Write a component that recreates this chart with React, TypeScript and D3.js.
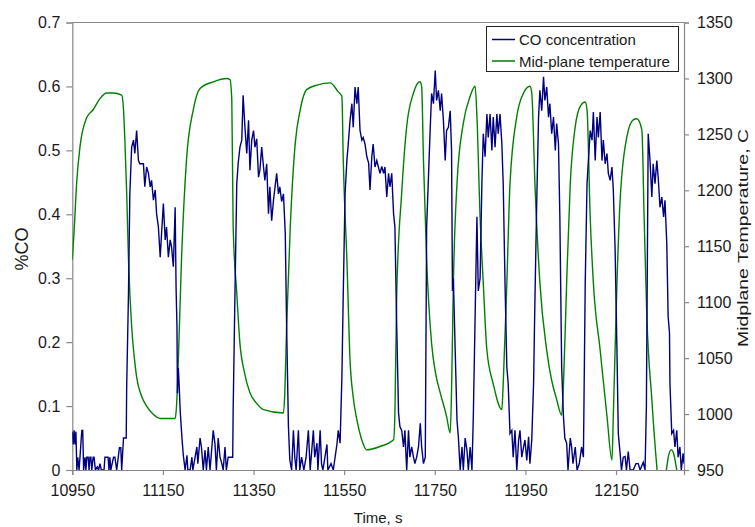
import React, { useRef, useEffect } from "react";
import * as d3 from "d3";

// time (s), %CO
const coReadings: [number, number][] = [
  [10950, 0.06], [10952, 0.04], [10954, 0.062], [10956, 0.04], [10958, 0.06], [10960, 0], [10962, 0.02], [10965, 0],
  [10971, 0.062], [10973, 0.062], [10975, 0], [10978, 0.02], [10980, 0], [10982, 0.02], [10985, 0.02], [10987, 0],
  [10989, 0.02], [10991, 0.02], [10993, 0], [10996, 0.02], [10998, 0.02], [11001, 0], [11005, 0.005], [11008, 0],
  [11011, 0.01], [11014, 0], [11020, 0], [11022, 0.02], [11029, 0.02], [11031, 0], [11033, 0.02], [11035, 0],
  [11041, 0.02], [11044, 0.02], [11048, 0], [11054, 0.035], [11057, 0.035], [11059, 0], [11063, 0.05], [11069, 0.05],
  [11070, 0.13], [11074, 0.276], [11077, 0.432], [11081, 0.505], [11085, 0.516], [11088, 0.495], [11092, 0.531],
  [11096, 0.484], [11099, 0.479], [11107, 0.479], [11110, 0.443], [11114, 0.474], [11118, 0.464], [11122, 0.443],
  [11125, 0.453], [11129, 0.422], [11133, 0.438], [11136, 0.401], [11140, 0.38], [11144, 0.333], [11147, 0.37],
  [11151, 0.417], [11155, 0.36], [11158, 0.38], [11162, 0.333], [11166, 0.36], [11169, 0.349], [11173, 0.318],
  [11177, 0.411], [11179, 0.286], [11181, 0.224], [11182, 0.12], [11184, 0.16], [11186, 0.13], [11188, 0.094],
  [11192, 0.05], [11195, 0.023], [11199, 0], [11203, 0.023], [11205, 0], [11210, 0], [11214, 0.02], [11216, 0],
  [11225, 0.036], [11227, 0.01], [11232, 0.05], [11235, 0.036], [11239, 0], [11243, 0.031], [11246, 0], [11250, 0.036],
  [11254, 0], [11261, 0.062], [11265, 0.04], [11268, 0], [11272, 0.05], [11276, 0.02], [11280, 0.01], [11283, 0],
  [11287, 0.036], [11290, 0], [11294, 0.02], [11298, 0.02], [11302, 0.02], [11304, 0.02], [11305, 0.094],
  [11309, 0.276], [11313, 0.448], [11316, 0.479], [11320, 0.505], [11324, 0.516], [11327, 0.586], [11331, 0.536],
  [11335, 0.495], [11339, 0.547], [11342, 0.469], [11346, 0.516], [11350, 0.531], [11353, 0.505], [11357, 0.518],
  [11361, 0.458], [11364, 0.469], [11368, 0.505], [11372, 0.474], [11375, 0.453], [11379, 0.479], [11383, 0.401],
  [11386, 0.443], [11390, 0.39], [11394, 0.422], [11401, 0.464], [11405, 0.432], [11408, 0.443], [11412, 0.42],
  [11416, 0.432], [11420, 0.37], [11423, 0.224], [11427, 0.068], [11430, 0.016], [11434, 0], [11438, 0.062],
  [11441, 0.02], [11444, 0], [11449, 0.062], [11452, 0], [11456, 0.02], [11461, 0], [11466, 0.02], [11471, 0.062],
  [11475, 0], [11482, 0.062], [11485, 0.02], [11490, 0.042], [11492, 0], [11497, 0.062], [11500, 0.01], [11503, 0],
  [11512, 0.04], [11514, 0], [11521, 0.01], [11526, 0], [11534, 0.04], [11537, 0.062], [11541, 0.042], [11545, 0.146],
  [11548, 0.276], [11552, 0.432], [11556, 0.484], [11559, 0.51], [11563, 0.547], [11567, 0.573], [11570, 0.536],
  [11574, 0.599], [11578, 0.573], [11581, 0.599], [11585, 0.531], [11589, 0.516], [11592, 0.52], [11596, 0.51],
  [11600, 0.49], [11604, 0.48], [11607, 0.438], [11611, 0.49], [11614, 0.51], [11618, 0.474], [11622, 0.484],
  [11629, 0.464], [11633, 0.475], [11637, 0.464], [11640, 0.474], [11644, 0.427], [11648, 0.464], [11651, 0.443],
  [11655, 0.464], [11659, 0.401], [11662, 0.38], [11666, 0.224], [11670, 0.089], [11673, 0.068], [11677, 0.062],
  [11681, 0.036], [11684, 0.062], [11688, 0], [11692, 0.062], [11695, 0.02], [11699, 0.036], [11703, 0.02],
  [11706, 0.01], [11710, 0.02], [11714, 0.036], [11718, 0.073], [11721, 0.036], [11725, 0.01], [11729, 0.02],
  [11732, 0.38], [11740, 0.536], [11743, 0.589], [11747, 0.573], [11751, 0.625], [11754, 0.578], [11758, 0.594],
  [11762, 0.562], [11765, 0.589], [11769, 0.547], [11773, 0.484], [11776, 0.531], [11780, 0.536], [11784, 0.562],
  [11787, 0.5], [11789, 0.28], [11791, 0.3], [11795, 0.188], [11799, 0.078], [11802, 0.052], [11806, 0],
  [11810, 0.036], [11813, 0], [11817, 0.05], [11821, 0.031], [11824, 0], [11828, 0.036], [11832, 0], [11835, 0.083],
  [11839, 0.24], [11843, 0.396], [11846, 0.28], [11850, 0.3], [11854, 0.45], [11857, 0.526], [11861, 0.49],
  [11865, 0.557], [11868, 0.52], [11872, 0.557], [11876, 0.5], [11879, 0.552], [11883, 0.505], [11887, 0.557],
  [11890, 0.526], [11894, 0.557], [11898, 0.51], [11901, 0.448], [11905, 0.292], [11909, 0.161], [11912, 0.135],
  [11916, 0.057], [11920, 0.062], [11923, 0.02], [11927, 0.062], [11931, 0], [11935, 0.047], [11938, 0.062],
  [11942, 0.02], [11946, 0.036], [11949, 0.047], [11953, 0.015], [11957, 0.052], [11960, 0.01], [11964, 0.047],
  [11968, 0.135], [11971, 0.266], [11975, 0.42], [11979, 0.552], [11982, 0.594], [11986, 0.562], [11990, 0.615],
  [11993, 0.578], [11997, 0.599], [12001, 0.552], [12004, 0.573], [12008, 0.526], [12012, 0.552], [12016, 0.5],
  [12019, 0.542], [12023, 0.51], [12026, 0.396], [12030, 0.161], [12034, 0.083], [12037, 0.05], [12041, 0.042],
  [12044, 0], [12049, 0.05], [12052, 0.036], [12055, 0.01], [12060, 0.036], [12064, 0], [12069, 0.01], [12074, 0.036],
  [12078, 0.02], [12082, 0.292], [12086, 0.448], [12089, 0.484], [12093, 0.531], [12097, 0.516], [12100, 0.56],
  [12104, 0.484], [12108, 0.552], [12111, 0.52], [12115, 0.56], [12119, 0.484], [12122, 0.516], [12126, 0.479],
  [12130, 0.495], [12133, 0.464], [12137, 0.453], [12141, 0.474], [12144, 0.438], [12148, 0.344], [12152, 0.188],
  [12155, 0.057], [12159, 0.026], [12162, 0], [12166, 0.02], [12170, 0.021], [12173, 0], [12177, 0.029], [12181, 0],
  [12188, 0], [12194, 0.01], [12199, 0.01], [12203, 0], [12210, 0.012], [12214, 0], [12217, 0.1], [12221, 0.526],
  [12225, 0.484], [12229, 0.427], [12232, 0.479], [12236, 0.448], [12240, 0.484], [12243, 0.458], [12247, 0.411],
  [12251, 0.427], [12255, 0.396], [12258, 0.422], [12262, 0.354], [12265, 0.24], [12268, 0.214], [12269, 0.135],
  [12273, 0.057], [12277, 0.062], [12280, 0.036], [12284, 0.062], [12287, 0.02], [12291, 0.036], [12294, 0],
  [12298, 0.026], [12300, 0.01],
];

// time (s), mid-plane temperature (C)
const tempReadings: [number, number][] = [
  [10950, 1138], [10954, 1164], [10960, 1209], [10967, 1239], [10982, 1265], [10996, 1272], [11011, 1282],
  [11026, 1287], [11040, 1287], [11059, 1285], [11063, 1272], [11066, 1245], [11070, 1198], [11074, 1138],
  [11081, 1078], [11087, 1050], [11092, 1033], [11103, 1016], [11114, 1007], [11128, 1000], [11144, 996],
  [11177, 996], [11180, 1007], [11184, 1048], [11191, 1138], [11202, 1227], [11217, 1272], [11232, 1291],
  [11261, 1297], [11291, 1300], [11298, 1299], [11302, 1281], [11305, 1167], [11313, 1108], [11320, 1063],
  [11330, 1037], [11342, 1019], [11356, 1010], [11372, 1004], [11416, 1001], [11419, 1019], [11423, 1078],
  [11431, 1167], [11442, 1242], [11453, 1272], [11467, 1290], [11490, 1294], [11519, 1296], [11537, 1288],
  [11545, 1284], [11548, 1227], [11556, 1138], [11563, 1048], [11570, 1015], [11578, 995], [11588, 978],
  [11600, 968], [11629, 971], [11659, 977], [11662, 1001], [11666, 1108], [11677, 1198], [11688, 1257],
  [11703, 1287], [11717, 1297], [11721, 1293], [11725, 1227], [11732, 1138], [11743, 1063], [11752, 1036],
  [11762, 1019], [11776, 998], [11784, 983], [11787, 1021], [11791, 1117], [11799, 1206], [11813, 1260],
  [11828, 1284], [11839, 1293], [11843, 1266], [11850, 1176], [11857, 1117], [11865, 1057], [11879, 1027],
  [11898, 1004], [11901, 1027], [11909, 1117], [11916, 1206], [11931, 1266], [11946, 1287], [11960, 1293],
  [11964, 1287], [11971, 1206], [11982, 1117], [11997, 1057], [12008, 1030], [12019, 1013], [12030, 999],
  [12034, 1027], [12041, 1117], [12049, 1206], [12060, 1257], [12071, 1275], [12082, 1279], [12086, 1272],
  [12093, 1176], [12100, 1117], [12115, 1057], [12130, 998], [12141, 959], [12144, 998], [12152, 1117],
  [12159, 1191], [12174, 1248], [12188, 1263], [12196, 1264], [12207, 1254], [12212, 1176], [12218, 1087],
  [12229, 1013], [12240, 953], [12245, 932], [12261, 950], [12266, 963], [12272, 968], [12277, 965],
  [12284, 950], [12292, 932],
];

const timeTicks = [10950, 11150, 11350, 11550, 11750, 11950, 12150];
const coTicks = [0, 0.1, 0.2, 0.3, 0.4, 0.5, 0.6, 0.7];
const tempTicks = [950, 1000, 1050, 1100, 1150, 1200, 1250, 1300, 1350];
const seriesNames = ["CO concentration", "Mid-plane temperature"];
const seriesColors = ["#000080", "#008000"];

const FONT = "'Liberation Sans', Arial, sans-serif";

const App = () => {
  const ref = useRef<SVGSVGElement>(null);

  useEffect(() => {
    document.body.style.margin = "0";
    if (!ref.current) return;
    const svg = d3.select(ref.current);
    svg.selectAll("*").remove();

    const left = 72.3, right = 684, top = 22.5, bottom = 470;

    const x = d3.scaleLinear().domain([10950, 12300]).range([left, right]);
    const yCO = d3.scaleLinear().domain([0, 0.7]).range([bottom, top]);
    const yT = d3.scaleLinear().domain([950, 1350]).range([bottom, top]);

    svg.append("defs").append("clipPath").attr("id", "plot-clip")
      .append("rect").attr("x", left).attr("y", top)
      .attr("width", right - left).attr("height", bottom - top);

    // frame top line
    svg.append("line")
      .attr("x1", left).attr("x2", right).attr("y1", top).attr("y2", top)
      .attr("stroke", "#888").attr("stroke-width", 1.2);

    const styleAxis = (g) => {
      g.select(".domain").attr("stroke", "#888").attr("stroke-width", 1.2);
      g.selectAll(".tick line").attr("stroke", "#888").attr("stroke-width", 1.2);
      g.selectAll(".tick text").attr("fill", "#1a1a1a")
        .style("font-family", FONT).style("font-size", "16px");
    };

    svg.append("g").attr("transform", `translate(${left},0)`)
      .call(d3.axisLeft(yCO).tickValues(coTicks).tickSizeOuter(0).tickSize(6).tickPadding(6)
        .tickFormat((d) => (d === 0 ? "0" : d3.format(".1f")(d))))
      .call(styleAxis);

    svg.append("g").attr("transform", `translate(${right},0)`)
      .call(d3.axisRight(yT).tickValues(tempTicks).tickSizeOuter(0).tickSize(5).tickPadding(8)
        .tickFormat(d3.format("d")))
      .call(styleAxis);

    svg.append("g").attr("transform", `translate(0,${bottom})`)
      .call(d3.axisBottom(x).tickValues(timeTicks).tickSizeOuter(0).tickSize(5).tickPadding(10)
        .tickFormat(d3.format("d")))
      .call(styleAxis);

    const plot = svg.append("g").attr("clip-path", "url(#plot-clip)");

    const tempLine = d3.line<[number, number]>().curve(d3.curveMonotoneX)
      .x((d) => x(d[0])).y((d) => yT(d[1]));
    const coLine = d3.line<[number, number]>().x((d) => x(d[0])).y((d) => yCO(d[1]));

    plot.append("path").datum(tempReadings).attr("d", tempLine)
      .attr("fill", "none").attr("stroke", seriesColors[1]).attr("stroke-width", 1.4);
    plot.append("path").datum(coReadings).attr("d", coLine)
      .attr("fill", "none").attr("stroke", seriesColors[0]).attr("stroke-width", 1.4);

    // axis titles
    svg.append("text").attr("x", (left + right) / 2).attr("y", 523)
      .attr("text-anchor", "middle").attr("fill", "#1a1a1a")
      .style("font-family", FONT).style("font-size", "15px").text("Time, s");

    svg.append("text").attr("transform", "translate(28,249) rotate(-90)")
      .attr("text-anchor", "middle").attr("fill", "#1a1a1a")
      .style("font-family", FONT).style("font-size", "18px").text("%CO");

    svg.append("text").attr("transform", "translate(748,238) rotate(-90)")
      .attr("text-anchor", "middle").attr("fill", "#1a1a1a")
      .attr("textLength", 218).attr("lengthAdjust", "spacingAndGlyphs")
      .style("font-family", FONT).style("font-size", "15px").text("Midplane Temperature, C");

    // legend
    const legend = svg.append("g");
    legend.append("rect").attr("x", 486.5).attr("y", 26.5).attr("width", 192).attr("height", 45)
      .attr("fill", "#fff").attr("stroke", "#222").attr("stroke-width", 1);
    seriesNames.forEach((name, i) => {
      const cy = 39.5 + i * 21.5;
      legend.append("line").attr("x1", 492).attr("x2", 515).attr("y1", cy).attr("y2", cy)
        .attr("stroke", seriesColors[i]).attr("stroke-width", 1.5);
      legend.append("text").attr("x", 519).attr("y", cy + 5.5).attr("fill", "#1a1a1a")
        .style("font-family", FONT).style("font-size", "15px").text(name);
    });
  }, []);

  return <svg ref={ref} width={755} height={527} style={{ display: "block", background: "#fff" }} />;
};

export default App;
